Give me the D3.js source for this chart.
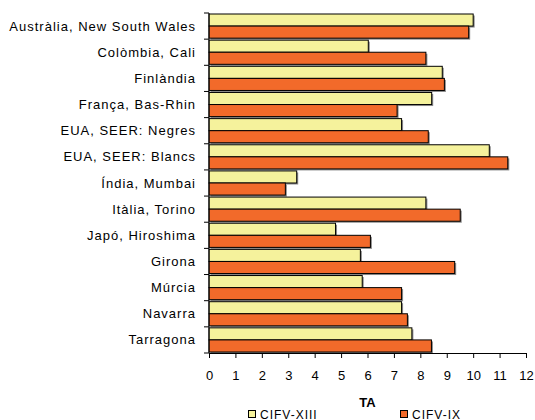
<!DOCTYPE html>
<html><head><meta charset="utf-8">
<script src="https://cdn.jsdelivr.net/npm/d3@7"></script>
<style>body{margin:0;background:#fff}svg{display:block}</style>
</head><body>
<script>
const categories = ["Austràlia, New South Wales","Colòmbia, Cali","Finlàndia","França, Bas-Rhin","EUA, SEER: Negres","EUA, SEER: Blancs","Índia, Mumbai","Itàlia, Torino","Japó, Hiroshima","Girona","Múrcia","Navarra","Tarragona"];
const seriesNames = ["CIFV-XIII","CIFV-IX"];
const cifvXIII = [10.0,6.03,8.83,8.43,7.29,10.61,3.32,8.21,4.79,5.73,5.80,7.29,7.68];
const cifvIX = [9.83,8.21,8.91,7.12,8.30,11.31,2.89,9.51,6.11,9.30,7.29,7.51,8.42];
const xTicks = [0,1,2,3,4,5,6,7,8,9,10,11,12];
const colors = ["#F5F29C","#F26A2A"];

const W=535,H=420;
const svg=d3.select("body").append("svg").attr("width",W).attr("height",H);
const pL=209,pR=526,pT=13,pB=353;
const x=d3.scaleLinear().domain([0,12]).range([pL,pR]);
const y=d3.scaleBand().domain(categories).range([pT,pB]).paddingInner(0).paddingOuter(0);
const sub=d3.scaleBand().domain(seriesNames).range([1,y.bandwidth()-1]);
const series=[cifvXIII,cifvIX];
const font="Liberation Sans, Arial, sans-serif";

const g=svg.append("g");
series.forEach((vals,si)=>{
  g.selectAll(null).data(vals).enter().append("rect")
    .attr("x",x(0)+1.5).attr("y",(d,i)=>y(categories[i])+sub(seriesNames[si])+1.5)
    .attr("width",d=>x(d)-x(0)).attr("height",sub.bandwidth())
    .attr("fill","#8a8a8a");
});
series.forEach((vals,si)=>{
  g.selectAll(null).data(vals).enter().append("rect")
    .attr("x",x(0)).attr("y",(d,i)=>y(categories[i])+sub(seriesNames[si]))
    .attr("width",d=>x(d)-x(0)).attr("height",sub.bandwidth())
    .attr("fill",colors[si]).attr("stroke","#000").attr("stroke-width",1);
});

const yEdges=categories.map(c=>y(c)).concat([pB]);
svg.append("line").attr("x1",pL).attr("x2",pL).attr("y1",pT).attr("y2",pB).attr("stroke","#000");
svg.selectAll(null).data(yEdges).enter().append("line")
  .attr("x1",pL-5).attr("x2",pL).attr("y1",d=>d).attr("y2",d=>d).attr("stroke","#000");
svg.selectAll(null).data(categories).enter().append("text")
  .attr("x",196).attr("y",c=>y(c)+y.bandwidth()/2).attr("dy","0.35em")
  .attr("text-anchor","end").attr("font-family",font).attr("font-size",13)
  .attr("letter-spacing","1px").attr("fill","#000").text(c=>c);

const xa=svg.append("g").attr("transform",`translate(0,${pB})`)
  .call(d3.axisBottom(x).tickValues(xTicks).tickSize(5).tickPadding(13).tickSizeOuter(0));
xa.select(".domain").attr("stroke","#000");
xa.selectAll("line").attr("stroke","#000");
xa.selectAll("text").attr("font-family",font).attr("font-size",13).attr("fill","#000");

svg.append("text").attr("x",(pL+pR)/2).attr("y",407).attr("text-anchor","middle")
  .attr("font-family",font).attr("font-size",13).attr("font-weight","bold").text("TA");

const legX=[248,400];
seriesNames.forEach((n,i)=>{
  svg.append("rect").attr("x",legX[i]+0.5).attr("y",410.5).attr("width",7).attr("height",7)
    .attr("fill",colors[i]).attr("stroke","#000");
  svg.append("text").attr("x",legX[i]+12).attr("y",418.5)
    .attr("font-family",font).attr("font-size",12).attr("letter-spacing","1px").text(n);
});
</script>
</body></html>
